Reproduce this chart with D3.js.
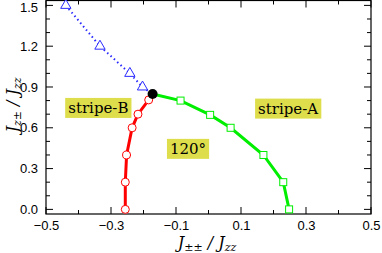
<!DOCTYPE html>
<html>
<head>
<meta charset="utf-8">
<script src="https://cdn.jsdelivr.net/npm/d3@7"></script>
<style>
  body { margin: 0; background: #fff; }
  .tick text { font-family: "Liberation Sans", Arial, sans-serif; font-size: 13px; fill: #000; }
  .serif { font-family: "DejaVu Serif", serif; }
</style>
</head>
<body>
<div id="fig"></div>
<script>
// phase boundaries
var blueTri = [[-0.439, 1.5], [-0.334, 1.2], [-0.242, 1.0], [-0.203, 0.9]];
var tricrit = [-0.172, 0.849];
var redPts = [[-0.184, 0.805], [-0.217, 0.70], [-0.235, 0.60], [-0.252, 0.40], [-0.256, 0.20], [-0.256, 0.0]];
var greenPts = [[-0.086, 0.80], [0.005, 0.695], [0.068, 0.60], [0.169, 0.40], [0.230, 0.20], [0.248, 0.0]];

var xTicks = [-0.5, -0.4, -0.3, -0.2, -0.1, 0, 0.1, 0.2, 0.3, 0.4, 0.5];
var xLabels = [-0.5, -0.3, -0.1, 0.1, 0.3, 0.5];
var yTicks = [0, 0.1, 0.2, 0.3, 0.4, 0.5, 0.6, 0.7, 0.8, 0.9, 1.0, 1.1, 1.2, 1.3, 1.4, 1.5];
var yLabels = [0, 0.3, 0.6, 0.9, 1.2, 1.5];

var phases = [
  {name: "stripe-B", x: -0.339, y: 0.746},
  {name: "stripe-A", x: 0.245, y: 0.741},
  {name: "120°", x: -0.063, y: 0.445}
];

var svg = d3.select("#fig").append("svg")
    .attr("width", 382)
    .attr("height", 253);

var xScale = d3.scaleLinear().domain([-0.5, 0.5]).range([46, 371]);
var yScale = d3.scaleLinear().domain([-0.034, 1.536]).range([214, 0.5]);

function isLab(list, v) { return list.some(function(l) { return Math.abs(l - v) < 1e-6; }); }
function fmt(v) { return d3.format(".1f")(v).replace("-", "\u2212"); }

// phase labels (under the curves)
phases.forEach(function(p) {
  var g = svg.append("g");
  var t = g.append("text")
      .attr("class", "serif")
      .attr("x", xScale(p.x)).attr("y", yScale(p.y))
      .attr("text-anchor", "middle").attr("dy", "0.33em")
      .style("font-size", "15px")
      .text(p.name);
  var bb = t.node().getBBox();
  g.insert("rect", "text")
      .attr("x", bb.x - 3).attr("y", yScale(p.y) - 10)
      .attr("width", bb.width + 6).attr("height", 20)
      .style("fill", "#dede4c");
});

// frame
svg.append("rect")
    .attr("x", xScale(-0.5)).attr("y", yScale(1.536))
    .attr("width", xScale(0.5) - xScale(-0.5))
    .attr("height", yScale(-0.034) - yScale(1.536))
    .style("fill", "none").style("stroke", "#000").style("stroke-width", 1.2);

// axes
svg.append("g").attr("transform", "translate(0," + yScale(-0.034) + ")")
    .call(d3.axisBottom(xScale).tickValues(xTicks).tickSize(0).tickPadding(7)
      .tickFormat(function(d) { return isLab(xLabels, d) ? fmt(d) : ""; }));
svg.append("g").attr("transform", "translate(" + xScale(-0.5) + ",0)")
    .call(d3.axisLeft(yScale).tickValues(yTicks).tickSize(0).tickPadding(8)
      .tickFormat(function(d) { return isLab(yLabels, d) ? d3.format(".1f")(d) : ""; }));
svg.selectAll(".domain").remove();
svg.selectAll(".tick text").filter(function() { return this.textContent === "1.5"; }).attr("dy", "0.45em");

// inward ticks on all four sides
xTicks.forEach(function(v) {
  var L = isLab(xLabels, v) ? 7 : 4;
  var x = xScale(v);
  svg.append("line").attr("x1", x).attr("x2", x).attr("y1", yScale(-0.034)).attr("y2", yScale(-0.034) - L)
      .style("stroke", "#000");
  svg.append("line").attr("x1", x).attr("x2", x).attr("y1", yScale(1.536)).attr("y2", yScale(1.536) + L)
      .style("stroke", "#000");
});
yTicks.forEach(function(v) {
  var L = isLab(yLabels, v) ? 7 : 4;
  var y = yScale(v);
  svg.append("line").attr("x1", xScale(-0.5)).attr("x2", xScale(-0.5) + L).attr("y1", y).attr("y2", y)
      .style("stroke", "#000");
  svg.append("line").attr("x1", xScale(0.5)).attr("x2", xScale(0.5) - L).attr("y1", y).attr("y2", y)
      .style("stroke", "#000");
});

// axis titles
var xt = svg.append("text").attr("class", "serif").attr("x", 207).attr("y", 248)
    .attr("text-anchor", "middle")
    .style("font-style", "italic").style("font-size", "16px");
xt.append("tspan").text("J");
xt.append("tspan").attr("baseline-shift", "-25%").style("font-size", "11px").text("±±");
xt.append("tspan").text(" / J");
xt.append("tspan").attr("baseline-shift", "-25%").style("font-size", "11px").text("zz");

var yt = svg.append("text").attr("class", "serif").attr("transform", "translate(18,105) rotate(-90)")
    .attr("text-anchor", "middle")
    .style("font-style", "italic").style("font-size", "16px");
yt.append("tspan").text("J");
yt.append("tspan").attr("baseline-shift", "-25%").style("font-size", "11px").text("z±");
yt.append("tspan").text(" / J");
yt.append("tspan").attr("baseline-shift", "-25%").style("font-size", "11px").text("zz");

var line = d3.line()
    .x(function(d) { return xScale(d[0]); })
    .y(function(d) { return yScale(d[1]); });

// blue dotted boundary
svg.append("path")
    .attr("d", line(blueTri.concat([tricrit])))
    .style("fill", "none").style("stroke", "#2a2aff").style("stroke-width", 2)
    .style("stroke-dasharray", "1.5,3");

// red boundary
svg.append("path")
    .attr("d", line([tricrit].concat(redPts)))
    .style("fill", "none").style("stroke", "#ff0000").style("stroke-width", 3);

// green boundary
svg.append("path")
    .attr("d", line([tricrit].concat(greenPts)))
    .style("fill", "none").style("stroke", "#00ee00").style("stroke-width", 3);

// markers
svg.selectAll(".tri").data(blueTri).enter().append("path")
    .attr("class", "tri")
    .attr("transform", function(d) { return "translate(" + xScale(d[0]) + "," + yScale(d[1]) + ")"; })
    .attr("d", d3.symbol().type(d3.symbolTriangle).size(46))
    .style("fill", "#fff").style("stroke", "#2a2aff").style("stroke-width", 1);

svg.selectAll(".circ").data(redPts).enter().append("circle")
    .attr("class", "circ")
    .attr("cx", function(d) { return xScale(d[0]); })
    .attr("cy", function(d) { return yScale(d[1]); })
    .attr("r", 4)
    .style("fill", "#fff").style("stroke", "#ff0000").style("stroke-width", 1);

svg.selectAll(".sq").data(greenPts).enter().append("rect")
    .attr("class", "sq")
    .attr("x", function(d) { return xScale(d[0]) - 3.5; })
    .attr("y", function(d) { return yScale(d[1]) - 3.5; })
    .attr("width", 7).attr("height", 7)
    .style("fill", "#fff").style("stroke", "#00ee00").style("stroke-width", 1);

svg.append("circle")
    .attr("cx", xScale(tricrit[0])).attr("cy", yScale(tricrit[1]))
    .attr("r", 5).style("fill", "#000");
</script>
</body>
</html>
